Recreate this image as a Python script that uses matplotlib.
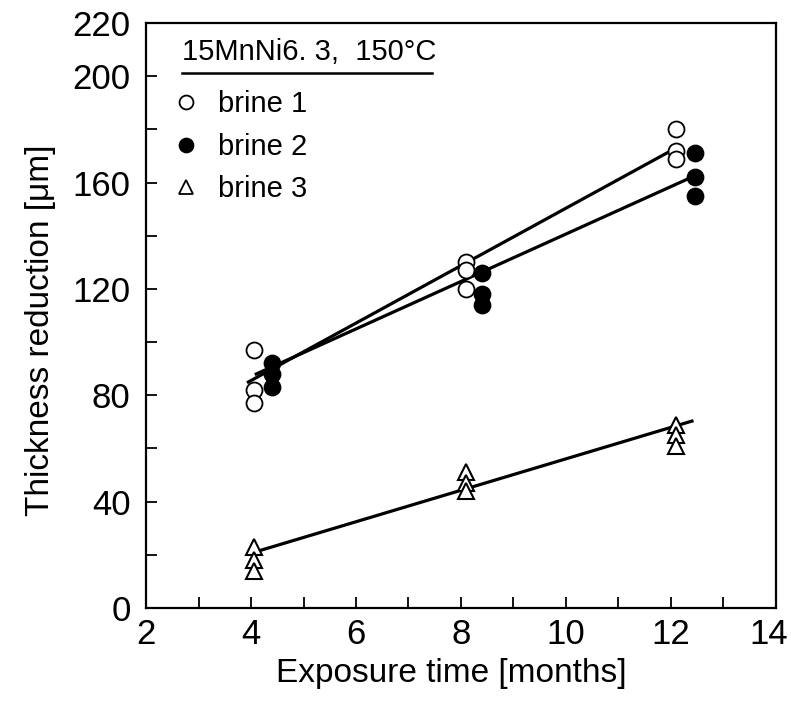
import numpy as np
import matplotlib
matplotlib.use("Agg")
import matplotlib.pyplot as plt
from matplotlib.lines import Line2D
from matplotlib.transforms import ScaledTranslation

plt.rcParams['font.family'] = ['Liberation Sans', 'DejaVu Sans']

# measured thickness reduction [um] vs exposure time [months]
time_b1 = [4.05, 4.05, 4.05, 8.1, 8.1, 8.1, 12.1, 12.1, 12.1]
brine1 = [97, 82, 77, 130, 127, 120, 180, 172, 169]

time_b2 = [4.4, 4.4, 4.4, 8.4, 8.4, 8.4, 12.45, 12.45, 12.45]
brine2 = [92, 88, 83, 126, 118, 114, 171, 162, 155]

time_b3 = [4.05, 4.05, 4.05, 8.1, 8.1, 8.1, 12.1, 12.1, 12.1]
brine3 = [23, 18, 14, 51, 47, 44, 69, 65, 61]

# regression lines (end points)
fit1_x = [3.95, 12.05]
fit1_y = [85, 172.5]
fit2_x = [4.1, 12.45]
fit2_y = [88, 162.5]
fit3_x = [4.15, 12.4]
fit3_y = [21.5, 70.3]

fig = plt.figure(figsize=(7.91, 7.07), dpi=100)
ax = fig.add_axes([0.1846, 0.140, 0.7964, 0.8275])

ax.plot(fit1_x, fit1_y, color='black', lw=2.3, zorder=2)
ax.plot(fit2_x, fit2_y, color='black', lw=2.3, zorder=2)
ax.plot(fit3_x, fit3_y, color='black', lw=2.3, zorder=2)

ax.plot(time_b1, brine1, 'o', ms=11.5, mfc='white', mec='black', mew=1.3, zorder=3)
ax.plot(time_b2, brine2, 'o', ms=11.5, mfc='black', mec='black', mew=1.3, zorder=3)
ax.plot(time_b3, brine3, '^', ms=12, mfc='white', mec='black', mew=1.5, zorder=3)

ax.set_xlim(2, 14)
ax.set_ylim(0, 220)

xticks = np.arange(2, 15, 1)
ax.set_xticks(xticks)
ax.set_xticklabels([str(t) if t % 2 == 0 else '' for t in xticks])
yticks = np.arange(0, 221, 20)
ax.set_yticks(yticks)
ax.set_yticklabels([str(t) if (t % 40 == 0 or t == 220) else '' for t in yticks])

ax.tick_params(direction='in', length=8, width=1.3, labelsize=25)
ax.tick_params(axis='y', pad=11)
ax.tick_params(axis='x', pad=7)
for s in ax.spines.values():
    s.set_linewidth(1.6)

# keep the last x label inside the figure
last = ax.get_xticklabels()[-1]
last.set_transform(last.get_transform() + ScaledTranslation(-5 / 72, 0, fig.dpi_scale_trans))

ax.set_xlabel('Exposure time [months]', fontsize=24, labelpad=5)
ax.set_ylabel('Thickness reduction [μm]', fontsize=24, labelpad=12)
ax.xaxis.label.set_x(0.484)
ax.yaxis.label.set_y(0.475)

# legend header, underlined
ax.text(0.057, 0.937, '15MnNi6. 3,  150°C', transform=ax.transAxes,
        fontsize=21, ha='left', va='baseline')
ax.plot([0.057, 0.454], [0.9145, 0.9145], transform=ax.transAxes,
        color='black', lw=1.8, clip_on=False)

handles = [
    Line2D([], [], ls='none', marker='o', ms=10, mfc='white', mec='black', mew=1.3),
    Line2D([], [], ls='none', marker='o', ms=10, mfc='black', mec='black', mew=1.3),
    Line2D([], [], ls='none', marker='^', ms=10.5, mfc='white', mec='black', mew=1.3),
]
ax.legend(handles, ['brine 1', 'brine 2', 'brine 3'], loc='upper left',
          bbox_to_anchor=(0.031, 0.895), frameon=False, fontsize=21,
          handlelength=1.0, handletextpad=0.6, labelspacing=0.5,
          borderpad=0.2, borderaxespad=0)

fig.savefig('out.png', dpi=100)
